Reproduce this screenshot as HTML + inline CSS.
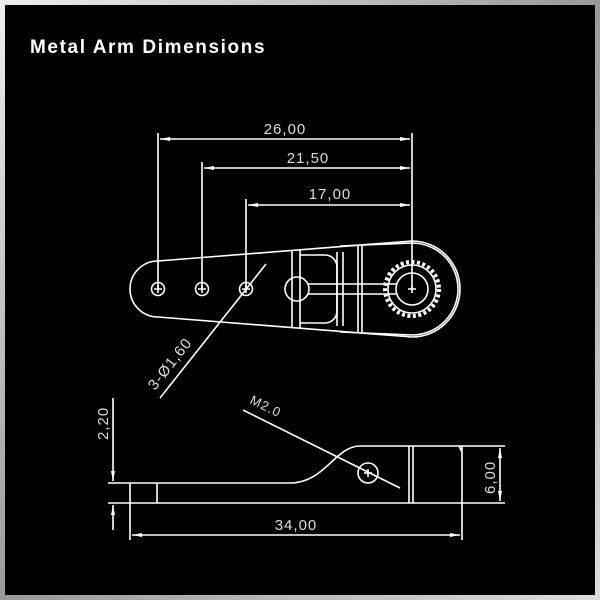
<!DOCTYPE html>
<html><head><style>
html,body{margin:0;padding:0;background:#000}
.f{position:absolute;left:0;top:0;width:600px;height:600px;background:linear-gradient(135deg,#eee,#999 50%,#ddd)}
.in{position:absolute;left:5px;top:5px;width:590px;height:590px;background:#000}
svg{position:absolute;left:0;top:0}
</style></head><body>
<div class="f"></div><div class="in"></div>
<svg width="600" height="600" viewBox="0 0 600 600">
<defs>
<marker id="a" markerWidth="10" markerHeight="6" refX="10" refY="3" orient="auto-start-reverse" markerUnits="userSpaceOnUse"><path d="M0,1 L10,3 L0,5" fill="#fff"/></marker>
</defs>
<text x="30" y="53" fill="#fff" font-family="Liberation Sans, sans-serif" font-size="19" font-weight="bold" letter-spacing="1.6">Metal Arm Dimensions</text>
<g stroke="#fff" stroke-width="1.6" fill="none">
<line x1="158" y1="133" x2="158" y2="289"/>
<line x1="202" y1="162" x2="202" y2="289"/>
<line x1="246" y1="199" x2="246" y2="289"/>
<line x1="412" y1="133" x2="412" y2="289"/>
<line x1="160" y1="139" x2="410" y2="139" marker-start="url(#a)" marker-end="url(#a)"/>
<line x1="204" y1="168" x2="410" y2="168" marker-start="url(#a)" marker-end="url(#a)"/>
<line x1="248" y1="205" x2="410" y2="205" marker-start="url(#a)" marker-end="url(#a)"/>
<path d="M158,261 L412,241 A48,48 0 0 1 412,337 L158,317 A28,28 0 0 1 158,261 Z"/>
<path d="M340,246 L412,243 A46,46 0 0 1 412,335 L340,332"/>
<circle cx="158" cy="289" r="6.5"/><circle cx="202" cy="289" r="6.5"/><circle cx="246" cy="289" r="6.5"/>
<path d="M154,289h8M158,285v8M198,289h8M202,285v8M242,289h8M246,285v8M408,289h8M412,285v8"/>
<circle cx="412" cy="289" r="24"/>
<circle cx="412" cy="289" r="16"/>
<circle cx="412" cy="289" r="27" stroke-dasharray="3 2.5" stroke-width="4"/>
<circle cx="297" cy="289" r="12"/>
<path d="M308,284 H396 M308,294 H396"/>
<path d="M300,255 H325 A12,12 0 0 1 337,267 V311 A12,12 0 0 1 325,323 H300"/>
<path d="M292,250 V328 M300,250 V328 M337,252 V326 M343,252 V326 M358,246 V332 M362,246 V332"/>
<line x1="266" y1="264" x2="160" y2="398"/>
<path d="M108,483 H290 C325,483 335,446 360,446 H505"/>
<path d="M108,503 H505"/>
<path d="M130,483 V540 M157,483 V503 M409,446 V503 M413,446 V503 M462,446 V540 M459,446 L462,452"/>
<circle cx="368" cy="473" r="10"/>
<path d="M364,473h8M368,469v8"/>
<line x1="243" y1="410" x2="400" y2="488"/>
<line x1="113" y1="398" x2="113" y2="481" marker-end="url(#a)"/>
<line x1="113" y1="530" x2="113" y2="505" marker-end="url(#a)"/>
<line x1="500" y1="448" x2="500" y2="501" marker-start="url(#a)" marker-end="url(#a)"/>
<line x1="132" y1="535" x2="460" y2="535" marker-start="url(#a)" marker-end="url(#a)"/>
</g>
<g font-family="Liberation Sans, sans-serif" font-size="15" letter-spacing="1" fill="#ddd">
<text x="285" y="134" text-anchor="middle">26,00</text>
<text x="308" y="163" text-anchor="middle">21,50</text>
<text x="330" y="199" text-anchor="middle">17,00</text>
<text transform="translate(155,391) rotate(-52)">3-Ø1,60</text>
<text transform="translate(249,403) rotate(26)" font-size="13">M2.0</text>
<text transform="translate(108,440) rotate(-90)">2,20</text>
<text transform="translate(495,494) rotate(-90)">6,00</text>
<text x="296" y="530" text-anchor="middle">34,00</text>
</g>
</svg>
</body></html>
